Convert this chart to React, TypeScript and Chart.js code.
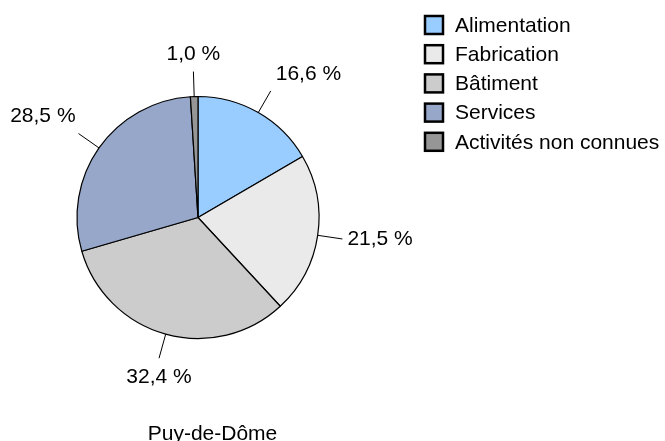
import React, { useEffect, useRef } from "react";
import { Chart, registerables } from "chart.js";

Chart.register(...registerables);

const categories = ["Alimentation", "Fabrication", "Bâtiment", "Services", "Activités non connues"];
const shares = [16.6, 21.5, 32.4, 28.5, 1.0];
const sliceColors = ["#99CCFF", "#EAEAEA", "#CCCCCC", "#97A7C9", "#969696"];
const chartTitle = "Puy-de-Dôme";

const FONT = "21px 'Liberation Sans', Arial, sans-serif";

const fmt = (v: number) => v.toFixed(1).replace(".", ",") + " %";

const decorPlugin = {
  id: "decor",
  afterDatasetsDraw(chart: any) {
    const ctx = chart.ctx;
    const meta = chart.getDatasetMeta(0);
    ctx.save();
    ctx.font = FONT;
    ctx.fillStyle = "#000";
    ctx.strokeStyle = "#000";
    ctx.lineWidth = 1;
    meta.data.forEach((arc: any, i: number) => {
      const mid = (arc.startAngle + arc.endAngle) / 2;
      const dx = Math.cos(mid);
      const dy = Math.sin(mid);
      const r0 = arc.outerRadius;
      const r1 = arc.outerRadius + 25;
      const sx = arc.x + dx * r0;
      const sy = arc.y + dy * r0;
      const ex = arc.x + dx * r1;
      const ey = arc.y + dy * r1;
      ctx.beginPath();
      ctx.moveTo(sx, sy);
      ctx.lineTo(ex, ey);
      ctx.stroke();
      let tx = ex;
      let ty = ey;
      if (dx > 0.3) {
        ctx.textAlign = "left";
        tx = ex + 5;
      } else if (dx < -0.3) {
        ctx.textAlign = "right";
        tx = ex - 3;
      } else {
        ctx.textAlign = "center";
      }
      if (dy < -0.3) ty = ey - 17;
      else if (dy > 0.3) ty = ey + 19;
      ctx.textBaseline = "middle";
      ctx.fillText(fmt(shares[i]), tx, ty);
    });
    ctx.restore();
  },
  afterDraw(chart: any) {
    const ctx = chart.ctx;
    ctx.save();
    ctx.font = FONT;
    // legend
    const lx = 425;
    const ly = 16;
    const step = 29.2;
    categories.forEach((c, i) => {
      const y = ly + i * step;
      ctx.fillStyle = sliceColors[i];
      ctx.fillRect(lx, y, 18, 18);
      ctx.strokeStyle = "#000";
      ctx.lineWidth = 2.5;
      ctx.strokeRect(lx, y, 18, 18);
      ctx.fillStyle = "#000";
      ctx.textAlign = "left";
      ctx.textBaseline = "middle";
      ctx.fillText(c, 455, y + 10);
    });
    // title
    ctx.textAlign = "center";
    ctx.textBaseline = "alphabetic";
    ctx.fillText(chartTitle, 212.5, 440);
    ctx.restore();
  },
};

export default function App() {
  const ref = useRef<HTMLCanvasElement | null>(null);
  useEffect(() => {
    if (!ref.current) return;
    const chart = new Chart(ref.current, {
      type: "pie",
      data: {
        labels: categories,
        datasets: [
          {
            data: shares,
            backgroundColor: sliceColors,
            borderColor: "#000",
            borderWidth: 1.2,
            radius: 121,
          } as any,
        ],
      },
      options: {
        responsive: false,
        animation: false,
        layout: { padding: { left: 0, top: 0, right: 269, bottom: 6 } },
        plugins: {
          legend: { display: false },
          tooltip: { enabled: false },
          title: { display: false },
        },
      },
      plugins: [decorPlugin],
    });
    return () => chart.destroy();
  }, []);
  return (
    <div style={{ position: "absolute", left: 0, top: 0, width: 665, height: 441, background: "#fff" }}>
      <canvas ref={ref} width={665} height={441} />
    </div>
  );
}
